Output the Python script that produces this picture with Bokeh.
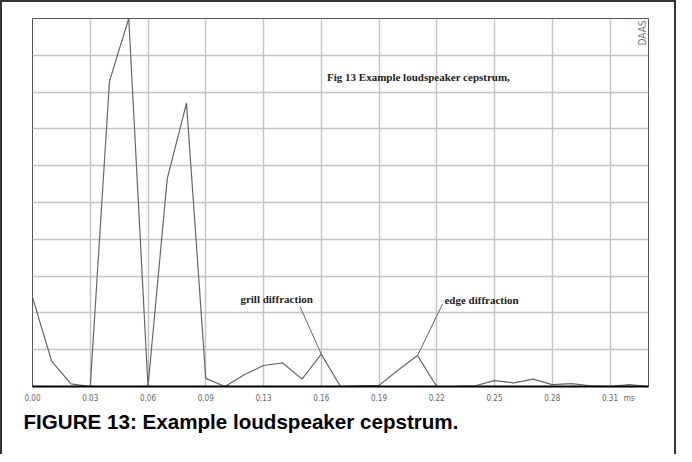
import math
from bokeh.plotting import figure
from bokeh.models import Range1d, FixedTicker, Label, Title
from bokeh.embed import file_html
from bokeh.resources import INLINE

# cepstrum magnitude per sample (arbitrary units, 0..10 grid)
cepstrum = [2.42, 0.68, 0.07, 0.0, 8.3, 10.0, 0.0, 5.65, 7.7, 0.22,
            0.0, 0.32, 0.57, 0.64, 0.2, 0.88, 0.0, 0.02, 0.03, 0.45,
            0.84, 0.0, 0.0, 0.02, 0.16, 0.1, 0.2, 0.05, 0.08, 0.02,
            0.0, 0.05, 0.0]
sample_index = list(range(len(cepstrum)))

tick_samples = [0, 3, 6, 9, 12, 15, 18, 21, 24, 27, 30]
tick_labels = ["0.00", "0.03", "0.06", "0.09", "0.13", "0.16",
               "0.19", "0.22", "0.25", "0.28", "0.31"]
unit_tick = 31
unit_label = "ms"
y_grid_levels = [0, 1, 2, 3, 4, 5, 6, 7, 8, 9, 10]

p = figure(width=676, height=454, output_backend="svg", toolbar_location=None,
           x_range=Range1d(0, 32), y_range=Range1d(0, 10),
           min_border_left=30, min_border_right=30,
           min_border_top=16, min_border_bottom=70)
p.styles = {"border-top": "2px solid #333", "border-left": "2px solid #333",
            "border-right": "2px solid #333", "box-sizing": "border-box"}
p.background_fill_color = "white"
p.border_fill_color = "white"
p.outline_line_color = "#555555"
p.outline_line_width = 1

p.yaxis.visible = False
labels = {t: l for t, l in zip(tick_samples, tick_labels)}
labels[unit_tick] = unit_label
p.xaxis.ticker = FixedTicker(ticks=tick_samples + [unit_tick])
p.xaxis.major_label_overrides = labels
p.xaxis.axis_line_color = "black"
p.xaxis.axis_line_width = 2
p.xaxis.major_tick_line_color = None
p.xaxis.minor_tick_line_color = None
p.xaxis.major_label_text_font = "DejaVu Sans Condensed"
p.xaxis.major_label_text_font_size = "8px"
p.xaxis.major_label_text_color = "#666666"
p.xaxis.major_label_standoff = 1

p.xgrid.ticker = FixedTicker(ticks=tick_samples + [32])
p.ygrid.ticker = FixedTicker(ticks=y_grid_levels)
p.xgrid.grid_line_color = "#c4c4c4"
p.ygrid.grid_line_color = "#c4c4c4"
p.xgrid.grid_line_width = 1.5
p.ygrid.grid_line_width = 1.5

p.line(sample_index, cepstrum, line_color="#666666", line_width=1.2)

# leader lines for the annotations
p.segment(x0=[13.9, 21.3], y0=[2.17, 2.24], x1=[15, 20], y1=[0.88, 0.84],
          line_color="#666666", line_width=1)

serif = dict(text_font="Liberation Serif", text_font_style="bold",
             text_font_size="11px", text_color="#222222", text_baseline="middle")
p.add_layout(Label(x=15.3, y=8.4, text="Fig 13  Example loudspeaker cepstrum,", **serif))
p.add_layout(Label(x=10.8, y=2.39, text="grill diffraction", **serif))
p.add_layout(Label(x=21.4, y=2.36, text="edge diffraction", **serif))

p.add_layout(Label(x=32, y=10, x_offset=-1, y_offset=-2, text="DAAS",
                   angle=math.pi / 2, text_align="right", text_baseline="bottom",
                   text_font="DejaVu Sans Condensed", text_font_size="10px",
                   text_color="#777777"))

caption = Title(text="FIGURE 13: Example loudspeaker cepstrum.", align="left",
                offset=-9, standoff=5, text_font="Liberation Sans",
                text_font_style="bold", text_font_size="20.6px", text_color="black")
p.add_layout(caption, "below")

open("out.html", "w").write(file_html(p, INLINE))
